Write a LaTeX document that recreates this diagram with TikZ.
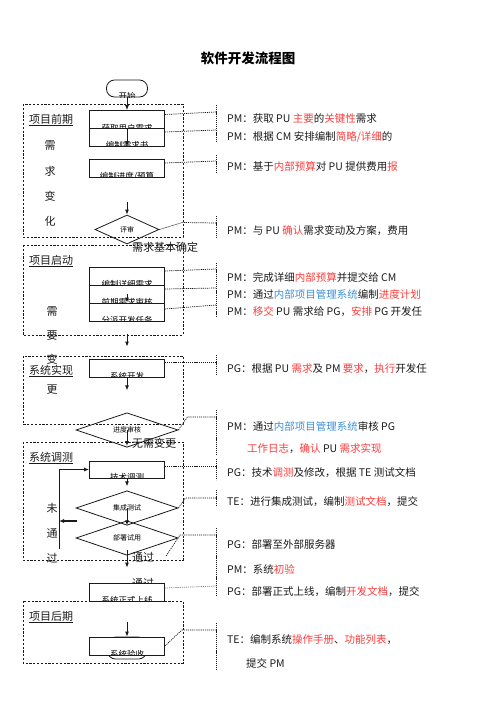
\documentclass[tikz,border=0pt]{standalone}
\usepackage{fontspec}
\setmainfont{Noto Sans CJK SC}
\usepackage{xcolor}
\usepackage{tikz}
\usetikzlibrary{arrows.meta,positioning,shapes.geometric}
\definecolor{hong}{HTML}{FF3B3B}
\definecolor{lan}{HTML}{3D8FD6}
\definecolor{hei}{HTML}{1A1A1A}
\newcommand{\hongzi}[1]{\textcolor{hong}{#1}}
\newcommand{\lanzi}[1]{\textcolor{lan}{#1}}

\begin{document}
\begin{tikzpicture}[x=1pt, y=-1pt,
      kuang/.style={rectangle, draw=hei, fill=white, line width=0.8pt,
                    minimum width=75pt, minimum height=18pt, inner sep=0pt},
      ling/.style={diamond, draw=hei, line width=0.8pt, inner sep=0pt,
                   minimum width=102pt, minimum height=29pt, font=\fontsize{7}{8}\selectfont},
      neiwen/.style={path picture={\node[draw=none, fill=none, inner sep=0pt, anchor=base,
                     font=\fontsize{8.5}{9}\selectfont] at ([yshift=-2.5pt]path picture bounding box.south) {#1};}},
      fenqu/.style={draw=hei, line width=0.8pt, dash pattern=on 2.2pt off 1.6pt},
      lianxian/.style={draw=hei, line width=0.7pt, dash pattern=on 1.2pt off 0.9pt},
      jiantou/.style={-{Latex[length=5pt,width=4pt]}, draw=hei, line width=0.9pt},
      biaoqian/.style={font=\fontsize{11}{11}\selectfont, inner sep=0pt, text=hei},
      shuoming/.style={font=\fontsize{10.5}{11}\selectfont, anchor=west, inner sep=0pt, text=hei}]

    \useasboundingbox (0,0) rectangle (496,702);
    \node[font=\fontsize{13.5}{14}\selectfont\bfseries] (biaoti) at (248,58) {软件开发流程图};

    \draw[fenqu] (23,104) rectangle (183,237);
    \draw[fenqu] (23,245) rectangle (183,335);
    \draw[fenqu] (23,356) rectangle (183,424);
    \draw[fenqu] (23,442) rectangle (183,560);

    \node[draw=hei, fill=white, line width=0.8pt, rounded corners=8pt, minimum width=41pt,
          minimum height=17pt, inner sep=0pt, neiwen=开始] (kaishi) at (127,88.5) {};

    \node[biaoqian] (xmqq) at (51,120) {\underline{项目前期}};
    \foreach \zi/\h [count=\i] in {需/146,求/171,变/196,化/221}
      \node[biaoqian] (bh\i) at (50,\h) {\zi};
    \node[kuang, neiwen=获取用户需求] (huoqu) at (127,119.5) {};
    \node[kuang, neiwen=编制需求书] (xuqiu) at (127,137) {};
    \node[kuang, neiwen=编制进度/预算] (jindu) at (127,168) {};
    \node[ling, minimum width=64pt, minimum height=29pt] (pingshen) at (127,229.5) {评审};

    \node[biaoqian] (queding) at (165,247) {需求基本确定};
    \node[biaoqian] (xmqd) at (51,261) {\underline{项目启动}};
    \foreach \zi/\h [count=\i] in {需/312,要/336,变/359,更/390}
      \node[biaoqian] (bg\i) at (52,\h) {\zi};
    \node[kuang, neiwen=编制详细需求] (xiangxi) at (127,276) {};
    \node[kuang, neiwen=前期需求审核] (qianqi) at (127,294) {};
    \node[kuang, neiwen=分派开发任务] (fenpai) at (127,312) {};

    \node[biaoqian] (xtsx) at (51,371) {\underline{系统实现}};
    \node[kuang, neiwen=系统开发] (kaifa) at (127,368) {};
    \node[ling] (shenhe) at (127,430) {进度审核};
    \node[biaoqian] (wuxu) at (154,443) {无需变更};

    \node[biaoqian] (xttc) at (51,458) {\underline{系统调测}};
    \node[kuang, minimum height=17pt, neiwen=技术调测] (tiaoce) at (127,469.5) {};
    \node[ling, minimum height=26pt] (jicheng) at (127,508) {集成测试};
    \node[ling, minimum height=33pt] (bushu) at (127,538) {部署试用};
    \foreach \zi/\h [count=\i] in {未/508,通/533,过/558}
      \node[biaoqian] (wtg\i) at (52,\h) {\zi};
    \node[biaoqian] (tongguo) at (143,557) {通过};
    \node[biaoqian] (tongguob) at (143,583) {通过};
    \coordinate (huiqi) at (59,549);
    \coordinate (zuojian) at (77,521);

    \node[kuang, neiwen=系统正式上线] (shangxian) at (127,592) {};
    \draw[fenqu] (23,601) rectangle (183,663);
    \node[biaoqian] (xmhq) at (51,617) {\underline{项目后期}};
    \node[draw=hei, line width=0.8pt, rounded corners=8pt, minimum width=39pt,
          minimum height=22pt, inner sep=0pt] (jieshu) at (127,648) {};
    \node[kuang, neiwen=系统验收] (yanshou) at (127,646) {};

    \draw[jiantou] (kaishi) -- (huoqu);
    \draw[jiantou] (huoqu.south) -- (xuqiu.south);
    \draw[jiantou] ([yshift=13pt]pingshen.north) -- (pingshen.north);
    \draw[jiantou] (qianqi.center) -- (fenpai.north);
    \draw[jiantou] ([yshift=25pt]kaifa.north) -- ([yshift=12pt]kaifa.north);
    \draw[jiantou] (kaifa.south) -- ([yshift=-13pt]kaifa.south);
    \draw[jiantou] (shenhe.center) -- ([yshift=-16pt]shenhe.center);
    \draw[jiantou] (tiaoce.south) -- ([yshift=4pt]jicheng.north);
    \draw[jiantou] (jicheng.center) -- ([yshift=-5pt]bushu.north);
    \draw[jiantou] ([yshift=-12pt]bushu.center) -- ([yshift=15pt]shangxian.north);
    \draw[jiantou] (huiqi) |- (tiaoce.west);
    \draw[jiantou, line width=1.3pt] (zuojian) -- (zuojian -| huiqi);
    \draw[jiantou] ([yshift=15pt]yanshou.north) -- (yanshou.north);

    \foreach \a/\b in {105/142,155/173,216/238,263/317,355/374,410/455,459/480,490/506,528/597,623/670}
      \draw[lianxian] (216,\a) -- (216,\b);
    \coordinate (d1) at (216,112);
    \coordinate (d2) at (216,130);
    \coordinate (d3) at (216,161);
    \coordinate (d4) at (216,223);
    \coordinate (d5) at (216,269);
    \coordinate (d6) at (216,288);
    \coordinate (d7) at (216,305);
    \coordinate (d8) at (216,362);
    \coordinate (d9) at (216,417);
    \coordinate (d10) at (216,466);
    \coordinate (d11) at (216,498);
    \coordinate (d12) at (216,535);
    \coordinate (d13) at (216,586);
    \coordinate (d14) at (216,630);
    \coordinate (c12) at (166,556);

    \draw[lianxian] ([yshift=5pt]huoqu.east) -- (d1);
    \draw[lianxian] ([yshift=5pt]xuqiu.east) -- (d2);
    \draw[lianxian] ([yshift=5pt]jindu.east) -- (d3);
    \draw[lianxian] (pingshen.east) -- ++(23,-7) -- (d4);
    \draw[lianxian] ([yshift=5pt]xiangxi.east) -- (d5);
    \draw[lianxian] ([yshift=5pt]qianqi.east) -- (d6);
    \draw[lianxian] ([yshift=3pt]fenpai.east) -- (d7);
    \draw[lianxian] ([yshift=6pt]kaifa.east) -- (d8);
    \draw[lianxian] (shenhe.east) -- ++(9,-13) -- (d9);
    \draw[lianxian] ([yshift=3.5pt]tiaoce.east) -- (d10);
    \draw[lianxian] (jicheng.east) -- ++(7,-10) -- (d11);
    \draw[lianxian] (c12) -- ++(14,-21) -- (d12);
    \draw[lianxian, draw=hei!55] ([yshift=4pt]shangxian.east) -- (d13);
    \draw[lianxian] (yanshou.east) -- ++(17,-16) -- (d14);

    \node[shuoming] (t1) at (227,119) {PM：获取 PU \hongzi{主要}的\hongzi{关键性}需求};
    \node[shuoming] (t2) at (227,137) {PM：根据 CM 安排编制\hongzi{简略/详细}的};
    \node[shuoming] (t3) at (227,167) {PM：基于\hongzi{内部预算}对 PU 提供费用\hongzi{报}};
    \node[shuoming] (t4) at (227,231) {PM：与 PU \hongzi{确认}需求变动及方案，费用};
    \node[shuoming] (t5) at (227,277) {PM：完成详细\hongzi{内部预算}并提交给 CM};
    \node[shuoming] (t6) at (227,294) {PM：通过\lanzi{内部项目管理系统}编制\hongzi{进度计划}};
    \node[shuoming] (t7) at (227,312) {PM：\hongzi{移交} PU 需求给 PG，\hongzi{安排} PG 开发任};
    \node[shuoming] (t8) at (227,369) {PG：根据 PU \hongzi{需求}及 PM \hongzi{要求}，\hongzi{执行}开发任};
    \node[shuoming] (t9) at (227,426) {PM：通过\lanzi{内部项目管理系统}审核 PG};
    \node[shuoming] (t9b) at (247,449) {\hongzi{工作日志}，\hongzi{确认} PU \hongzi{需求实现}};
    \node[shuoming] (t10) at (227,473) {PG：技术\hongzi{调测}及修改，根据 TE 测试文档};
    \node[shuoming] (t11) at (227,502) {TE：进行集成测试，编制\hongzi{测试文档}，提交};
    \node[shuoming] (t12) at (227,544) {PG：部署至外部服务器};
    \node[shuoming] (t13) at (227,569) {PM：系统\hongzi{初验}};
    \node[shuoming] (t14) at (227,592) {PG：部署正式上线，编制\hongzi{开发文档}，提交};
    \node[shuoming] (t15) at (227,640) {TE：编制系统\hongzi{操作手册}、\hongzi{功能列表}，};
    \node[shuoming] (t16) at (246,663) {提交 PM};
  \end{tikzpicture}
\end{document}
